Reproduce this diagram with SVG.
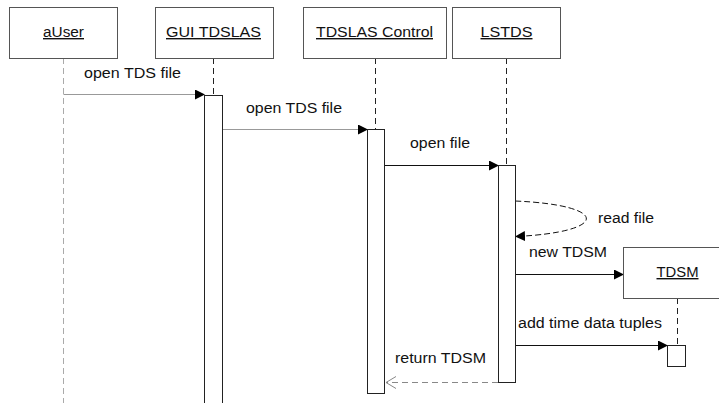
<svg xmlns="http://www.w3.org/2000/svg" width="719" height="403" viewBox="0 0 719 403">
<style>
text{font-family:"Liberation Sans",Arial,sans-serif;font-size:14px;fill:#111}
.hd{text-anchor:middle;text-decoration:underline}
.box{fill:#fff;stroke:#555;stroke-width:1}
.act{fill:#fff;stroke:#222;stroke-width:1}
.life{stroke:#222;stroke-width:1;stroke-dasharray:6 4;fill:none}
.msg{stroke:#111;stroke-width:1;fill:none}
</style>
<defs>
<marker id="fa" markerWidth="10" markerHeight="10" refX="9" refY="5" orient="auto" markerUnits="userSpaceOnUse"><path d="M0,0 L10,5 L0,10 z" fill="#000"/></marker>
<marker id="oa" markerWidth="12" markerHeight="14" refX="11" refY="7" orient="auto" markerUnits="userSpaceOnUse"><path d="M1,1 L11,7 L1,13" fill="none" stroke="#888" stroke-width="1"/></marker>
</defs>
<g id="connectors">
<line x1="63.5" y1="58" x2="63.5" y2="403" stroke="#aaa" stroke-dasharray="6 4"/>
<line class="life" x1="213.5" y1="58" x2="213.5" y2="95"/>
<line class="life" x1="375.5" y1="58" x2="375.5" y2="130"/>
<line class="life" x1="506.5" y1="58" x2="506.5" y2="165"/>
<line class="life" x1="677.5" y1="298" x2="677.5" y2="345"/>
<line x1="63.5" y1="94.5" x2="204" y2="94.5" stroke="#999" marker-end="url(#fa)"/>
<line x1="222" y1="129.5" x2="367" y2="129.5" stroke="#999" marker-end="url(#fa)"/>
<line class="msg" x1="384" y1="165.5" x2="498" y2="165.5" marker-end="url(#fa)"/>
<path class="msg" d="M515,201 C610,205 610,232 516,236.5" stroke-dasharray="6 3" marker-end="url(#fa)"/>
<line class="msg" x1="515" y1="274.5" x2="623" y2="274.5" marker-end="url(#fa)"/>
<line class="msg" x1="515" y1="345.5" x2="667" y2="345.5" marker-end="url(#fa)"/>
<line x1="498" y1="382.5" x2="386" y2="382.5" stroke="#888" stroke-dasharray="6 4" marker-end="url(#oa)"/>
<text x="84" y="77.5" textLength="97" lengthAdjust="spacingAndGlyphs">open TDS file</text>
<text x="246" y="113" textLength="96" lengthAdjust="spacingAndGlyphs">open TDS file</text>
<text x="410" y="148" textLength="60" lengthAdjust="spacingAndGlyphs">open file</text>
<text x="598" y="223" textLength="56" lengthAdjust="spacingAndGlyphs">read file</text>
<text x="529" y="257" textLength="78" lengthAdjust="spacingAndGlyphs">new TDSM</text>
<text x="518" y="327.5" textLength="144" lengthAdjust="spacingAndGlyphs">add time data tuples</text>
<text x="395" y="363" textLength="91" lengthAdjust="spacingAndGlyphs">return TDSM</text>
</g>
<g id="aUser"><rect class="box" x="9.5" y="7.5" width="108" height="51"/><text class="hd" x="63.5" y="37" textLength="41" lengthAdjust="spacingAndGlyphs">aUser</text></g>
<g id="GUI_TDSLAS"><rect class="box" x="155.5" y="7.5" width="118" height="51"/><text class="hd" x="213.5" y="37" textLength="95" lengthAdjust="spacingAndGlyphs">GUI TDSLAS</text>
<rect class="act" x="204.5" y="95.5" width="18" height="320"/></g>
<g id="TDSLAS_Control"><rect class="box" x="303.5" y="7.5" width="143" height="51"/><text class="hd" x="374.5" y="37" textLength="117" lengthAdjust="spacingAndGlyphs">TDSLAS Control</text>
<rect class="act" x="367.5" y="129.5" width="17" height="264"/></g>
<g id="LSTDS"><rect class="box" x="452.5" y="7.5" width="108" height="51"/><text class="hd" x="506.5" y="37" textLength="52" lengthAdjust="spacingAndGlyphs">LSTDS</text>
<rect class="act" x="498.5" y="165.5" width="17" height="217"/></g>
<g id="TDSM"><rect class="box" x="623.5" y="247.5" width="108" height="51"/><text class="hd" x="677.5" y="277" textLength="42" lengthAdjust="spacingAndGlyphs">TDSM</text>
<rect class="act" x="667.5" y="345.5" width="18" height="21"/></g>
</svg>
